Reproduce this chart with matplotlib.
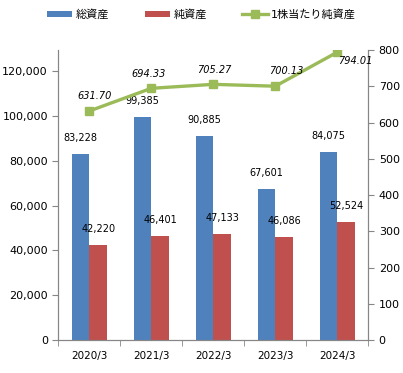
import matplotlib.pyplot as plt
import numpy as np

plt.rcParams['font.family'] = ['DejaVu Sans', 'Noto Sans CJK JP']

years = ['2020/3', '2021/3', '2022/3', '2023/3', '2024/3']
total_assets = [83228, 99385, 90885, 67601, 84075]
net_assets = [42220, 46401, 47133, 46086, 52524]
bps = [631.70, 694.33, 705.27, 700.13, 794.01]

blue = '#4F81BD'
red = '#C0504D'
green = '#9BBB59'
grey = '#868686'

fig = plt.figure(figsize=(4.03, 3.73), dpi=100)
ax = fig.add_axes([58.3 / 403, 33 / 373, 310 / 403, 290 / 373])
ax2 = ax.twinx()

x = np.arange(len(years))
w = 0.285
b1 = ax.bar(x - w / 2, total_assets, w, color=blue, label='総資産', zorder=2)
b2 = ax.bar(x + w / 2, net_assets, w, color=red, label='純資産', zorder=2)

for xi, v in zip(x, total_assets):
    ax.annotate(f'{v:,}', (xi - w / 2, v), xytext=(0, 8), textcoords='offset points',
                ha='center', va='bottom', fontsize=7)
for xi, v in zip(x, net_assets):
    ax.annotate(f'{v:,}', (xi + w / 2, v), xytext=(0, 8), textcoords='offset points',
                ha='center', va='bottom', fontsize=7)

ln, = ax2.plot(x, bps, color=green, lw=2.4, marker='s', markersize=6,
               label='1株当たり純資産', zorder=3)
offsets = [(4, 7), (-2, 7), (1, 7), (8, 7), (13, -10)]
for xi, v, off in zip(x, bps, offsets):
    ax2.annotate(f'{v:.2f}', (xi, v), xytext=off, textcoords='offset points',
                 ha='center', va='bottom', fontsize=7, style='italic')

ax.set_xlim(-0.5, len(years) - 0.5)
ax.set_ylim(0, 129500)
ax.set_yticks(np.arange(0, 120001, 20000))
ax.yaxis.set_major_formatter(plt.FuncFormatter(lambda v, p: f'{int(v):,}'))
ax2.set_ylim(0, 800)
ax2.set_yticks(np.arange(0, 801, 100))

ax.set_xticks(x)
ax.set_xticklabels(years, fontsize=7.5)
ax.set_xticks(np.arange(-0.5, len(years), 1), minor=True)
ax.tick_params(axis='x', which='major', length=0, pad=8)
ax.tick_params(axis='x', which='minor', length=4, color=grey, direction='out')
ax.tick_params(axis='y', labelsize=8, length=4, color=grey)
ax2.tick_params(axis='y', labelsize=8, length=4, color=grey)

for a in (ax, ax2):
    a.spines['top'].set_visible(False)
    for s in ('left', 'right', 'bottom'):
        a.spines[s].set_color(grey)

fig.legend(handles=[b1, b2, ln], loc='center', bbox_to_anchor=(0.5, 0.962), ncol=3,
           frameon=False, fontsize=8, handlelength=2.3, handleheight=0.45,
           handletextpad=0.3, columnspacing=3.2)

fig.savefig('out.png', dpi=100)
